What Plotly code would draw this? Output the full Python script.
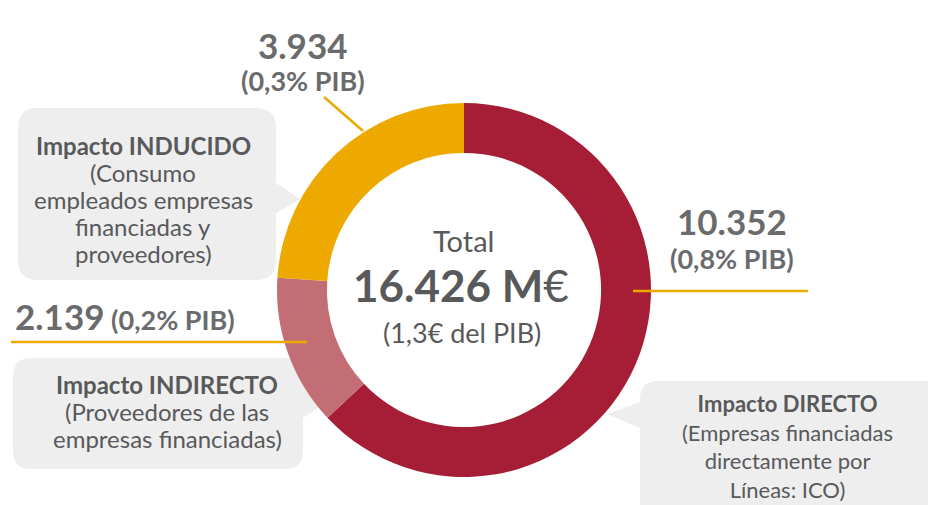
import plotly.graph_objects as go

# ---- data ----
labels = ["Impacto DIRECTO", "Impacto INDIRECTO", "Impacto INDUCIDO"]
values = [10352, 2139, 3934]
pib_pct = ["0,8", "0,2", "0,3"]
colors = ["#A51E36", "#C26E74", "#EDA900"]
descriptions = [
    ["(Empresas financiadas", "directamente por", "Líneas: ICO)"],
    ["(Proveedores de las", "empresas financiadas)"],
    ["(Consumo", "empleados empresas", "financiadas y", "proveedores)"],
]
total_label = "Total"
total_value = 16426  # as stated in the chart (rounded total)
total_pib = "(1,3€ del PIB)"

W, H = 928, 505
FONT = "Lato"
DARK = "#58595B"
MID = "#6A6B6D"
GOLD = "#EDA900"
BOX = "#EEEEEE"


def fmt(v):
    return f"{v:,}".replace(",", ".")


# donut geometry (pixels)
cx, cy, R = 464, 290, 187

fig = go.Figure()
fig.add_trace(go.Pie(
    labels=labels, values=values, sort=False, direction="clockwise", rotation=0,
    hole=0.733, marker=dict(colors=colors, line=dict(width=0)),
    textinfo="none", hoverinfo="none", showlegend=False,
    domain=dict(x=[(cx - R) / W, (cx + R) / W], y=[(H - cy - R) / H, (H - cy + R) / H]),
))


def rbox(x0, y0, x1, y1, r, pointer=None):
    # rounded rectangle with optional triangular pointer on left/right side
    p = f"M {x0+r},{y0} L {x1-r},{y0} Q {x1},{y0} {x1},{y0+r} "
    if pointer and pointer[0] == "right":
        _, ya, yb, tx, ty = pointer
        p += f"L {x1},{ya} L {tx},{ty} L {x1},{yb} "
    p += f"L {x1},{y1-r} Q {x1},{y1} {x1-r},{y1} L {x0+r},{y1} Q {x0},{y1} {x0},{y1-r} "
    if pointer and pointer[0] == "left":
        _, ya, yb, tx, ty = pointer
        p += f"L {x0},{yb} L {tx},{ty} L {x0},{ya} "
    p += f"L {x0},{y0+r} Q {x0},{y0} {x0+r},{y0} Z"
    return p


shapes = []
# boxes
shapes.append(dict(type="path", xref="x", yref="y", layer="below", line=dict(width=0), fillcolor=BOX,
                   path=rbox(18, 108, 276, 280, 20, ("right", 183, 213, 300, 199))))
shapes.append(dict(type="path", xref="x", yref="y", layer="below", line=dict(width=0), fillcolor=BOX,
                   path=rbox(13, 358, 303, 469, 18, ("right", 384, 418, 323, 405))))
shapes.append(dict(type="path", xref="x", yref="y", layer="below", line=dict(width=0), fillcolor=BOX,
                   path=rbox(640, 381, 950, 520, 18, ("left", 402, 428, 607, 414))))
# gold leader lines
for (x0, y0, x1, y1) in [(324, 97, 363, 131), (633, 291, 808, 291), (11, 342, 307, 342)]:
    shapes.append(dict(type="line", xref="x", yref="y", layer="above", x0=x0, y0=y0, x1=x1, y1=y1,
                       line=dict(color=GOLD, width=2.5)))

ann = []


def t(x, y, text, size, color, bold=False, xanchor="center", yanchor="middle"):
    if bold:
        text = f"<b>{text}</b>"
    ann.append(dict(x=x, y=y, xref="x", yref="y", text=text, showarrow=False, xanchor=xanchor,
                    yanchor=yanchor, font=dict(family=FONT, size=size, color=color)))


# centre
t(cx - 1, 240, total_label, 29, DARK)
t(cx - 3, 285, f"<b>{fmt(total_value)} M</b>€", 44, DARK)
t(cx - 2, 332, total_pib, 27, DARK)

# value labels
t(303, 45, fmt(values[2]), 35, MID, bold=True)
t(303, 80, f"({pib_pct[2]}% PIB)", 27, MID, bold=True)
t(732, 221, fmt(values[0]), 35, MID, bold=True)
t(732, 258, f"({pib_pct[0]}% PIB)", 27, MID, bold=True)
t(13, 316, f"<b><span style='font-size:35px'>{fmt(values[1])}</span> ({pib_pct[1]}% PIB)</b>", 27, MID,
  xanchor="left")

# box texts
def box_text(x, y0, dy, size, title, lines):
    t(x, y0, title, size, DARK, bold=True)
    for i, ln in enumerate(lines):
        t(x, y0 + dy * (i + 1), ln, size, DARK)


box_text(143, 145, 27, 24, labels[2], descriptions[2])
box_text(167, 384, 27, 24, labels[1], descriptions[1])
# DIRECTO box: one multi-line text block (tighter line spacing in the reference)
t(787, 388, "<br>".join([f"<b>{labels[0]}</b>"] + descriptions[0]), 22, DARK, yanchor="top")

fig.update_layout(
    width=W, height=H, margin=dict(l=0, r=0, t=0, b=0),
    paper_bgcolor="white", plot_bgcolor="rgba(0,0,0,0)",
    xaxis=dict(range=[0, W], visible=False, domain=[0, 1], fixedrange=True),
    yaxis=dict(range=[H, 0], visible=False, domain=[0, 1], fixedrange=True),
    shapes=shapes, annotations=ann,
)
fig.write_html("out.html", config=dict(displayModeBar=False),
               post_script="document.body.style.margin='0';document.body.style.overflow='hidden';")
